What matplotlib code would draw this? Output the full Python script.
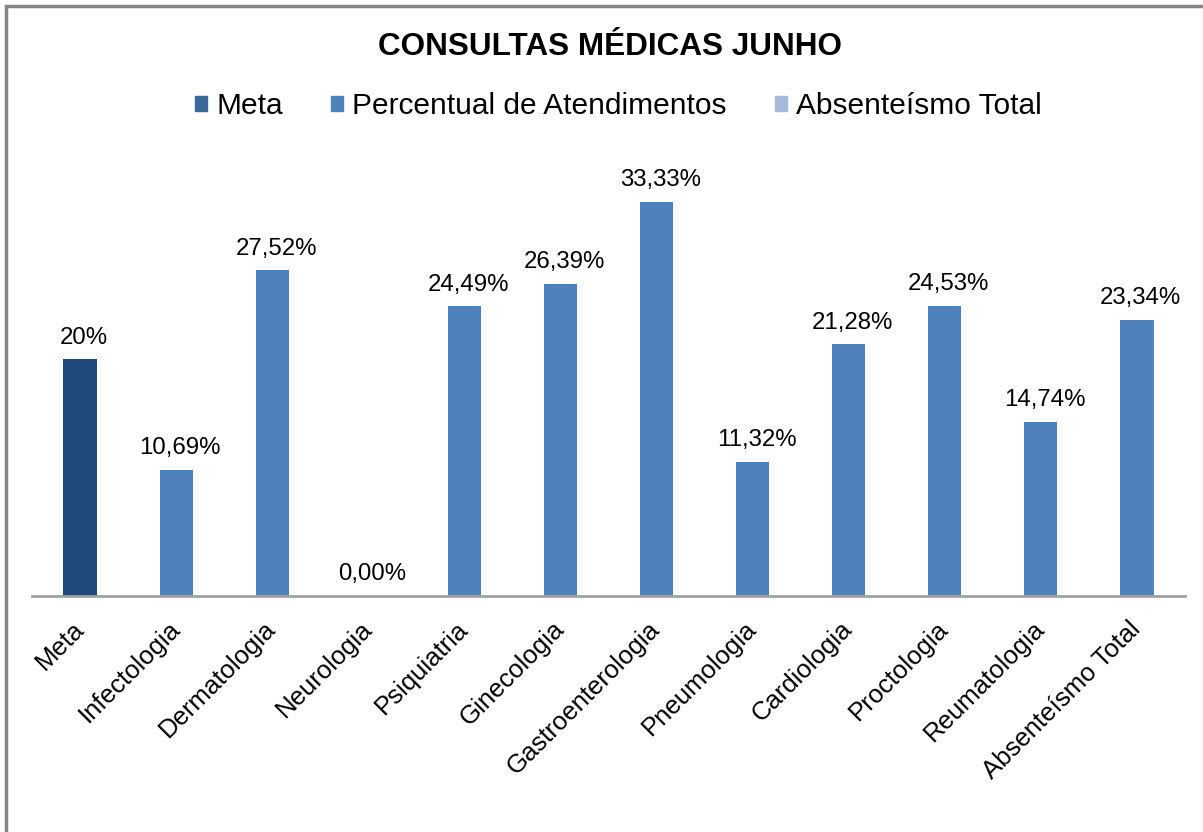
import matplotlib.pyplot as plt
from matplotlib.patches import Patch, Rectangle

plt.rcParams['font.family'] = ['Liberation Sans', 'DejaVu Sans']

categories = ["Meta", "Infectologia", "Dermatologia", "Neurologia", "Psiquiatria",
              "Ginecologia", "Gastroenterologia", "Pneumologia", "Cardiologia",
              "Proctologia", "Reumatologia", "Absenteísmo Total"]
values = [20.0, 10.69, 27.52, 0.00, 24.49, 26.39, 33.33, 11.32, 21.28, 24.53, 14.74, 23.34]
value_labels = ["20%", "10,69%", "27,52%", "0,00%", "24,49%", "26,39%", "33,33%",
                "11,32%", "21,28%", "24,53%", "14,74%", "23,34%"]
legend_names = ["Meta", "Percentual de Atendimentos", "Absenteísmo Total"]

META_COLOR = "#1f497d"
BAR_COLOR = "#4f81bd"
LEGEND_COLORS = ["#3c679a", "#4f81bd", "#a7b9da"]

fig = plt.figure(figsize=(12.03, 8.32), dpi=100)
ax = fig.add_axes([32 / 1203, 1 - 596 / 832, (1185 - 32) / 1203, (596 - 170) / 832])

colors = [META_COLOR] + [BAR_COLOR] * (len(categories) - 1)
x = list(range(len(categories)))
ax.bar(x, values, width=0.345, color=colors)

for xi, v, lab in zip(x, values, value_labels):
    ax.text(xi + 0.04, v + 0.9, lab, ha="center", va="bottom", fontsize=17.3)

ax.set_xlim(-0.5, len(categories) - 0.5)
ax.set_ylim(0, 36)
ax.set_yticks([])
ax.set_xticks(x)
ax.set_xticklabels(categories, rotation=45, ha="right", va="center",
                   rotation_mode="anchor", fontsize=18.5)
ax.tick_params(axis="x", length=0, pad=21)
for side in ["top", "right", "left"]:
    ax.spines[side].set_visible(False)
ax.spines["bottom"].set_color("#a0a0a0")
ax.spines["bottom"].set_linewidth(2)

fig.text(0.507, 1 - 47 / 832, "CONSULTAS MÉDICAS JUNHO", ha="center", va="center",
         fontsize=22.7, fontweight="bold")

handles = [Patch(color=c) for c in LEGEND_COLORS]
fig.legend(handles, legend_names, loc="center", bbox_to_anchor=(0.514, 1 - 106 / 832),
           ncol=3, frameon=False, fontsize=21.5, handlelength=0.42, handleheight=0.42,
           handletextpad=0.3, columnspacing=1.6)

# outer chart border
fig.patches.append(Rectangle((6 / 1203, -0.1), 1.2, 1 - 6 / 832 + 0.1,
                             transform=fig.transFigure, fill=False,
                             edgecolor="#868686", linewidth=2.5))

fig.savefig("out.png", dpi=100)
